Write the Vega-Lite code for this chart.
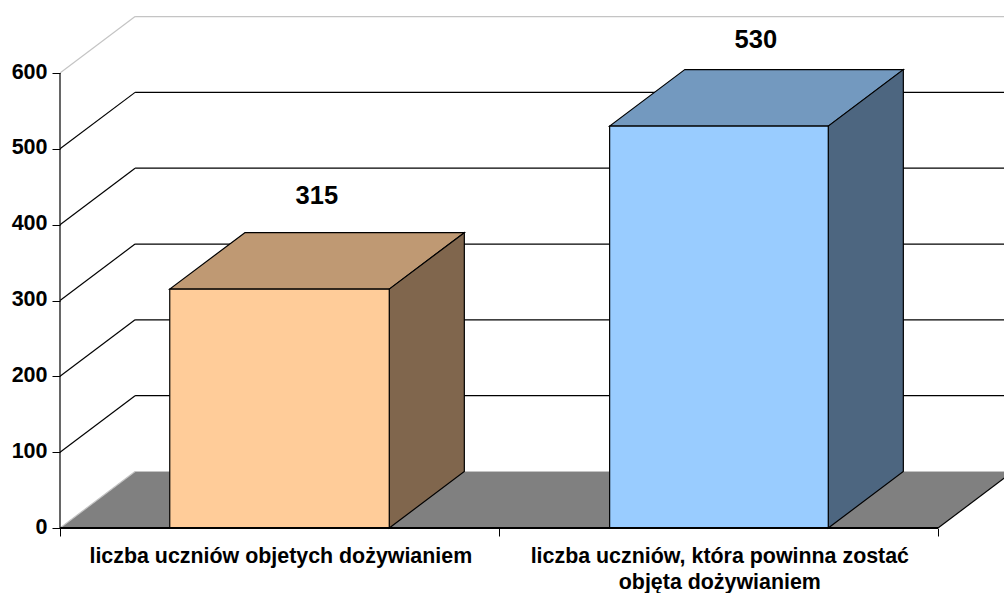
{
"$schema":"https://vega.github.io/schema/vega-lite/v6.json",
"width":944,"height":527,
"autosize":{"type":"none"},
"padding":{"left":60,"top":1,"right":0,"bottom":65},
"background":"white",
"view":{"stroke":null},
"config":{"font":"Liberation Sans"},
"datasets":{
"floor":[{"part":"floor","y":0,"x":0,"x2":2},{"part":"floor","y":74.5,"x":0.171,"x2":2.171}],
"grid":[
{"level":0,"x":0,"x2":0.171,"y":0,"y2":74.5},{"level":0,"x":0.171,"x2":2.171,"y":74.5,"y2":74.5},
{"level":100,"x":0,"x2":0.171,"y":100,"y2":174.5},{"level":100,"x":0.171,"x2":2.171,"y":174.5,"y2":174.5},
{"level":200,"x":0,"x2":0.171,"y":200,"y2":274.5},{"level":200,"x":0.171,"x2":2.171,"y":274.5,"y2":274.5},
{"level":300,"x":0,"x2":0.171,"y":300,"y2":374.5},{"level":300,"x":0.171,"x2":2.171,"y":374.5,"y2":374.5},
{"level":400,"x":0,"x2":0.171,"y":400,"y2":474.5},{"level":400,"x":0.171,"x2":2.171,"y":474.5,"y2":474.5},
{"level":500,"x":0,"x2":0.171,"y":500,"y2":574.5},{"level":500,"x":0.171,"x2":2.171,"y":574.5,"y2":574.5},
{"level":600,"x":0,"x2":0.171,"y":600,"y2":674.5},{"level":600,"x":0.171,"x2":2.171,"y":674.5,"y2":674.5},
{"level":1,"x":2,"x2":2.171,"y":0,"y2":74.5}
],
"front":[{"part":"a-front","x":0.25,"x2":0.75,"y":315,"y2":0},{"part":"b-front","x":1.252,"x2":1.75,"y":530,"y2":0}],
"top":[
{"part":"a-top","y":315,"x":0.25,"x2":0.75},{"part":"a-top","y":389.5,"x":0.421,"x2":0.921},
{"part":"b-top","y":530,"x":1.252,"x2":1.75},{"part":"b-top","y":604.5,"x":1.423,"x2":1.921}
],
"side":[
{"part":"a-side","x":0.75,"y":315,"y2":0},{"part":"a-side","x":0.921,"y":389.5,"y2":74.5},
{"part":"b-side","x":1.75,"y":530,"y2":0},{"part":"b-side","x":1.921,"y":604.5,"y2":74.5}
],
"axisline":[{"x":0,"x2":0,"y":0,"y2":600}],
"baseline":[{"x":0,"x2":2,"y":0,"y2":0}],
"values":[{"x":0.585,"y":438,"text":"315"},{"x":1.585,"y":644,"text":"530"}],
"cats":[{"x":0.503,"y":-38,"text":"liczba uczniów objetych dożywianiem"},{"x":1.503,"y":-38,"text":"liczba uczniów, która powinna zostać\nobjęta dożywianiem"}]
},
"encoding":{
"x":{"field":"x","type":"quantitative","title":null,
"scale":{"domain":[0,2.1503],"nice":false,"zero":false},
"axis":{"values":[0,1,2],"labels":false,"domain":false,"grid":false,"tickSize":8,"tickColor":"#000"}},
"y":{"field":"y","type":"quantitative","title":null,
"scale":{"domain":[0,695],"nice":false,"zero":false},
"axis":{"values":[0,100,200,300,400,500,600],"domain":false,"grid":false,"tickSize":8,"tickColor":"#000","labelPadding":5,"labelOffset":-1,"labelFont":"Liberation Sans","labelFontWeight":"bold","labelFontSize":21.5,"labelColor":"#000"}}
},
"layer":[
{"data":{"name":"floor"},"mark":{"type":"area","orient":"horizontal","clip":true},
 "encoding":{"x2":{"field":"x2"},"fill":{"field":"part","type":"nominal","legend":null,
  "scale":{"domain":["floor","a-front","a-top","a-side","b-front","b-top","b-side"],"range":["#808080","#FFCC99","#BF9973","#80664D","#99CCFF","#7399BF","#4D6680"]}}}},
{"data":{"name":"grid"},"mark":{"type":"rule","clip":true,"strokeWidth":1.2},
 "encoding":{"x2":{"field":"x2"},"y2":{"field":"y2"},
  "stroke":{"condition":{"test":"datum.level==0||datum.level==600","value":"#c4c4c4"},"value":"#000"}}},
{"data":{"name":"top"},"mark":{"type":"area","orient":"horizontal","stroke":"#000","strokeWidth":1.2},
 "encoding":{"x2":{"field":"x2"},"detail":{"field":"part"},"fill":{"field":"part","type":"nominal","legend":null}}},
{"data":{"name":"side"},"mark":{"type":"area","stroke":"#000","strokeWidth":1.2},
 "encoding":{"y2":{"field":"y2"},"detail":{"field":"part"},"fill":{"field":"part","type":"nominal","legend":null}}},
{"data":{"name":"front"},"mark":{"type":"rect","stroke":"#000","strokeWidth":1.2},
 "encoding":{"x2":{"field":"x2"},"y2":{"field":"y2"},"fill":{"field":"part","type":"nominal","legend":null}}},
{"data":{"name":"axisline"},"mark":{"type":"rule","stroke":"#000","strokeWidth":1.2},
 "encoding":{"x2":{"field":"x2"},"y2":{"field":"y2"}}},
{"data":{"name":"baseline"},"mark":{"type":"rule","stroke":"#000","strokeWidth":2},
 "encoding":{"x2":{"field":"x2"},"y2":{"field":"y2"}}},
{"data":{"name":"values"},"mark":{"type":"text","font":"Liberation Sans","fontWeight":"bold","fontSize":25.5,"color":"#000","align":"center","baseline":"middle"},
 "encoding":{"text":{"field":"text"}}},
{"data":{"name":"cats"},"mark":{"type":"text","font":"Liberation Sans","fontWeight":"bold","fontSize":21.4,"color":"#000","align":"center","baseline":"middle","lineBreak":"\n","lineHeight":26},
 "encoding":{"text":{"field":"text"}}}
]
}
